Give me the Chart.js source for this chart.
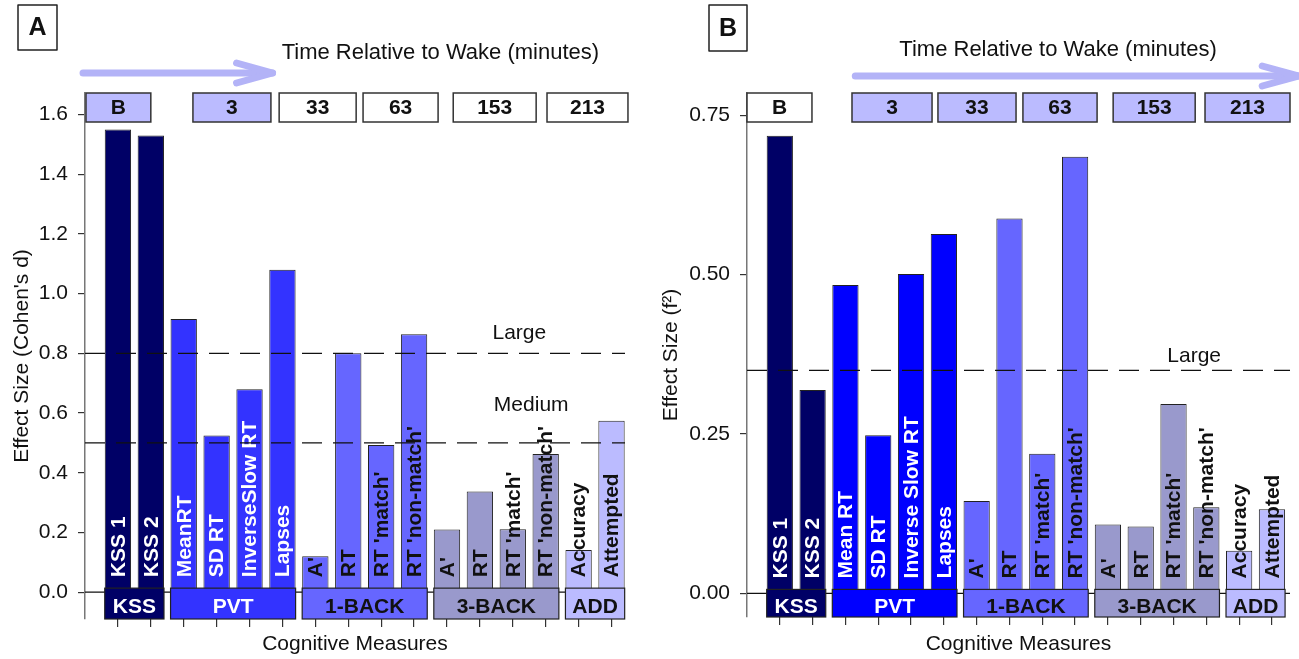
<!DOCTYPE html>
<html>
<head>
<meta charset="utf-8">
<script src="https://cdn.jsdelivr.net/npm/chart.js@4.4.0/dist/chart.umd.min.js"></script>
<style>
  body{margin:0;background:#fff;}
  #wrap{position:relative;width:1299px;height:659px;overflow:hidden;}
  canvas{position:absolute;top:0;}
</style>
</head>
<body>
<div id="wrap">
  <canvas id="chartA" width="650" height="659" style="left:0"></canvas>
  <canvas id="chartB" width="649" height="659" style="left:650px"></canvas>
</div>
<script>
// ---- data ----
const measuresA = ['KSS 1','KSS 2','MeanRT','SD RT','InverseSlow RT','Lapses',"A'",'RT',"RT 'match'","RT 'non-match'","A'",'RT',"RT 'match'","RT 'non-match'",'Accuracy','Attempted'];
const measuresB = ['KSS 1','KSS 2','Mean RT','SD RT','Inverse Slow RT','Lapses',"A'",'RT',"RT 'match'","RT 'non-match'","A'",'RT',"RT 'match'","RT 'non-match'",'Accuracy','Attempted'];
const groupNames = ['KSS','PVT','1-BACK','3-BACK','ADD'];
const groupSizes = [2,4,4,4,2];

const cohenD = [1.55,1.53,0.915,0.525,0.68,1.08,0.12,0.80,0.493,0.864,0.21,0.337,0.211,0.463,0.141,0.574];
const f2     = [0.718,0.319,0.484,0.248,0.501,0.564,0.145,0.588,0.219,0.685,0.108,0.105,0.297,0.135,0.067,0.132];

const ticksA = [0,0.2,0.4,0.6,0.8,1.0,1.2,1.4,1.6];
const ticksB = [0,0.25,0.5,0.75];

const refValuesA = [0.8,0.5];
const refLabelsA = ['Large','Medium'];
const refValuesB = [0.35];
const refLabelsB = ['Large'];

const timeLabels = ['B','3','33','63','153','213'];
const timeTitle = 'Time Relative to Wake (minutes)';

// ---- styles / layout ----
const FONT = "'Liberation Sans', Arial, sans-serif";
const groupColorsA = ['#000066','#3333ff','#6666ff','#9999cc','#bbbbff'];
const groupColorsB = ['#000066','#0000ff','#6666ff','#9999cc','#bbbbff'];
const groupTextColors = ['#ffffff','#ffffff','#111111','#111111','#111111'];
const LAV = '#bbbbff';

// which group each bar belongs to
const barGroup = [];
groupSizes.forEach((n,gi)=>{ for(let k=0;k<n;k++) barGroup.push(gi); });

const panelA = {
  letter:'A', letterBox:[18,5,39,45],
  timeSpans:[[0.03,2.0],[3.28,5.65],[5.9,8.24],[8.45,10.73],[11.19,13.71],[14.04,16.5]],
  timeFills:[LAV,LAV,'#fff','#fff','#fff','#fff'],
  arrow:{from:-0.06,to:5.7,y:73}, title:{x:10.8,y:53},
  refLabelX:[13.2,13.56], refLabelDy:[-20,-38],
  refValues:refValuesA, refLabels:refLabelsA, measures:measuresA
};
const panelB = {
  letter:'B', letterBox:[59,5,38,46],
  timeSpans:[[0.0,1.98],[3.2,5.64],[5.82,8.2],[8.41,10.67],[11.16,13.66],[13.96,16.55]],
  timeFills:['#fff',LAV,LAV,LAV,LAV,LAV],
  arrow:{from:3.3,to:16.8,y:76}, title:{x:9.48,y:50},
  refLabelX:[13.63], refLabelDy:[-14],
  refValues:refValuesB, refLabels:refLabelsB, measures:measuresB
};

// drawing of annotations on top of the bars
function decorPlugin(p){
  return {
    id:'decor'+p.letter,
    afterDatasetsDraw(chart){
      const {ctx, chartArea:a, scales:{x,y}} = chart;
      const y0 = y.getPixelForValue(0);
      ctx.save();

      // zero line
      ctx.strokeStyle='#111'; ctx.lineWidth=1.2;
      ctx.beginPath(); ctx.moveTo(a.left,y0); ctx.lineTo(a.right,y0); ctx.stroke();

      // group boxes under the bars
      const colors = p.letter==='A'?groupColorsA:groupColorsB;
      let start=0;
      groupNames.forEach((g,gi)=>{
        const n=groupSizes[gi];
        const l=x.getPixelForValue(start+1-0.4), r=x.getPixelForValue(start+n+0.4);
        const t=y0-4, b=a.bottom;
        ctx.fillStyle=colors[gi]; ctx.fillRect(l,t,r-l,b-t);
        ctx.strokeStyle='#222'; ctx.lineWidth=1.2; ctx.strokeRect(l,t,r-l,b-t);
        ctx.fillStyle=groupTextColors[gi];
        ctx.font='bold 21px '+FONT; ctx.textAlign='center'; ctx.textBaseline='middle';
        ctx.fillText(g,(l+r)/2,(t+b)/2+4);
        start+=n;
      });

      // rotated bar labels
      const meta=chart.getDatasetMeta(0);
      meta.data.forEach((bar,i)=>{
        ctx.save();
        ctx.translate(bar.x, y0-15);
        ctx.rotate(-Math.PI/2);
        ctx.fillStyle=groupTextColors[barGroup[i]];
        ctx.font='bold 21px '+FONT; ctx.textAlign='left'; ctx.textBaseline='middle';
        ctx.fillText(p.measures[i],0,1);
        ctx.restore();
      });

      // reference effect-size lines
      p.refValues.forEach((v,k)=>{
        const yy=y.getPixelForValue(v);
        ctx.strokeStyle='#111'; ctx.lineWidth=1.3; ctx.setLineDash([20,11]);
        ctx.beginPath(); ctx.moveTo(a.left,yy); ctx.lineTo(a.right,yy); ctx.stroke();
        ctx.setLineDash([]);
        ctx.fillStyle='#111'; ctx.font='21px '+FONT; ctx.textAlign='center'; ctx.textBaseline='middle';
        ctx.fillText(p.refLabels[k], x.getPixelForValue(p.refLabelX[k]), yy+p.refLabelDy[k]);
      });

      // time boxes along the top
      timeLabels.forEach((lbl,k)=>{
        const l=x.getPixelForValue(p.timeSpans[k][0]), r=x.getPixelForValue(p.timeSpans[k][1]);
        const t=a.top, h=29;
        ctx.fillStyle=p.timeFills[k]; ctx.fillRect(l,t,r-l,h);
        ctx.strokeStyle='#333'; ctx.lineWidth=1.5; ctx.strokeRect(l,t,r-l,h);
        ctx.fillStyle='#111'; ctx.font='bold 21px '+FONT; ctx.textAlign='center'; ctx.textBaseline='middle';
        ctx.fillText(lbl,(l+r)/2,t+h/2+1);
      });

      // arrow
      const ax1=x.getPixelForValue(p.arrow.from), ax2=x.getPixelForValue(p.arrow.to), ay=p.arrow.y;
      ctx.strokeStyle='#b3b3f7'; ctx.lineWidth=7; ctx.lineCap='round'; ctx.lineJoin='round';
      ctx.beginPath(); ctx.moveTo(ax1,ay); ctx.lineTo(ax2,ay); ctx.stroke();
      ctx.beginPath(); ctx.moveTo(ax2-36,ay-10); ctx.lineTo(ax2,ay); ctx.lineTo(ax2-36,ay+10); ctx.stroke();

      // title over the arrow
      ctx.fillStyle='#111'; ctx.font='22px '+FONT; ctx.textAlign='center'; ctx.textBaseline='middle';
      ctx.fillText(timeTitle, x.getPixelForValue(p.title.x), p.title.y);

      // panel letter
      const [bx,by,bw,bh]=p.letterBox;
      ctx.fillStyle='#fff'; ctx.fillRect(bx,by,bw,bh);
      ctx.strokeStyle='#222'; ctx.lineWidth=1.5; ctx.strokeRect(bx,by,bw,bh);
      ctx.fillStyle='#111'; ctx.font='bold 25px '+FONT; ctx.textAlign='center'; ctx.textBaseline='middle';
      ctx.fillText(p.letter,bx+bw/2,by+bh/2+1);

      ctx.restore();
    }
  };
}

function makeChart(id, p, values, colors, yCfg, xMax, yWidth, xHeight, padRight){
  const ctx=document.getElementById(id).getContext('2d');
  return new Chart(ctx,{
    type:'bar',
    data:{
      datasets:[{
        data: values.map((v,i)=>({x:i+1,y:v})),
        backgroundColor: barGroup.map(g=>colors[g]),
        borderColor:'#222', borderWidth:1,
        barPercentage:0.8, categoryPercentage:1
      }]
    },
    options:{
      responsive:false, animation:false,
      layout:{padding:{left:0,top:93,right:padRight,bottom:0}},
      plugins:{legend:{display:false},tooltip:{enabled:false}},
      scales:{
        x:{
          type:'linear', min:0, max:xMax, offset:false,
          afterBuildTicks:s=>{ s.ticks = values.map((v,i)=>({value:i+1})); },
          afterFit:s=>{ s.height = xHeight; },
          grid:{offset:false, drawOnChartArea:false, drawTicks:true, tickLength:8, color:'#333', lineWidth:1.2},
          border:{display:false},
          ticks:{display:false},
          title:{display:true, text:'Cognitive Measures', color:'#111', font:{family:FONT,size:21}, padding:{top:0,bottom:2}}
        },
        y:{
          min:yCfg.min, max:yCfg.max,
          afterBuildTicks:s=>{ s.ticks = yCfg.ticks.map(v=>({value:v})); },
          afterFit:s=>{ s.width = yWidth; },
          grid:{drawOnChartArea:false, drawTicks:true, tickLength:7, color:'#333', lineWidth:1.2},
          border:{display:true, color:'#777', width:1.5},
          ticks:{autoSkip:false, padding:10, color:'#111', font:{family:FONT,size:21}, callback:v=>v.toFixed(yCfg.dec)},
          title:{display:true, text:yCfg.title, color:'#111', font:{family:FONT,size:21}, padding:{top:yCfg.titlePad,bottom:0}}
        }
      }
    },
    plugins:[decorPlugin(p)]
  });
}

makeChart('chartA', panelA, cohenD, groupColorsA,
  {min:-0.09, max:1.672, ticks:ticksA, dec:1, title:"Effect Size (Cohen's d)", titlePad:10},
  16.41, 85, 40, 25);
makeChart('chartB', panelB, f2, groupColorsB,
  {min:-0.037, max:0.785, ticks:ticksB, dec:2, title:'Effect Size (f\u00B2)', titlePad:9},
  16.55, 97, 42, 9);
</script>
</body>
</html>
